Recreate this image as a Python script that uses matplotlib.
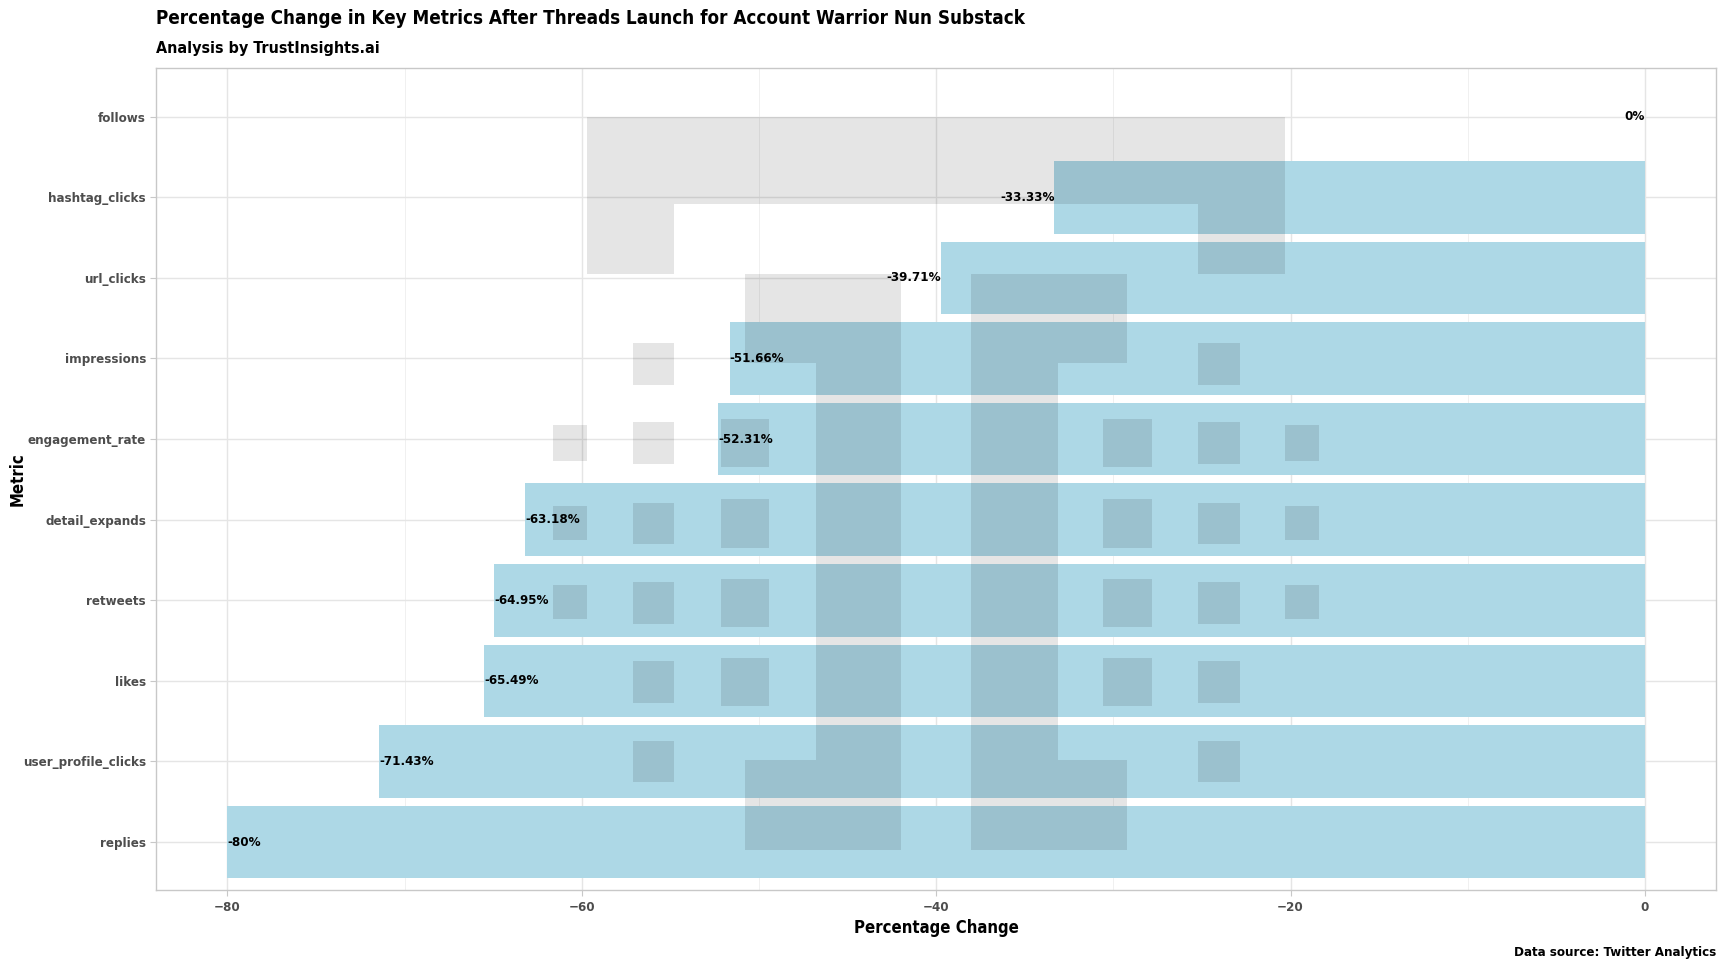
import matplotlib
matplotlib.use("Agg")
import matplotlib.pyplot as plt
import matplotlib.patches as patches
from matplotlib.ticker import MultipleLocator

plt.rcParams['font.family'] = ['DejaVu Sans']
plt.rcParams['font.stretch'] = 'condensed'

# data (bottom to top)
metrics = ["replies", "user_profile_clicks", "likes", "retweets", "detail_expands",
           "engagement_rate", "impressions", "url_clicks", "hashtag_clicks", "follows"]
pct_change = [-80.0, -71.43, -65.49, -64.95, -63.18, -52.31, -51.66, -39.71, -33.33, 0.0]

# watermark logo blocks, in reference pixels (x0, y0, x1, y1) on a 1568x882 canvas
W, H = 1568.0, 882.0
logo_blocks = [
    (533, 106, 1166, 185), (533, 185, 612, 249), (1087, 185, 1166, 249),
    (676, 249, 818, 329), (881, 249, 1023, 329),
    (740, 329, 818, 690), (881, 329, 960, 690),
    (676, 690, 818, 771), (881, 690, 1023, 771),
    (574, 311, 612, 349), (1087, 311, 1125, 349),
    (502, 386, 533, 418), (574, 383, 612, 421), (654, 380, 698, 424),
    (1001, 380, 1045, 424), (1087, 383, 1125, 421), (1166, 386, 1197, 418),
    (502, 459, 533, 490), (574, 456, 612, 494), (654, 453, 698, 497),
    (1001, 453, 1045, 497), (1087, 456, 1125, 494), (1166, 459, 1197, 490),
    (502, 531, 533, 562), (574, 528, 612, 566), (654, 525, 698, 569),
    (1001, 525, 1045, 569), (1087, 528, 1125, 566), (1166, 531, 1197, 562),
    (574, 600, 612, 638), (654, 597, 698, 641), (1001, 597, 1045, 641), (1087, 600, 1125, 638),
    (574, 672, 612, 710), (1087, 672, 1125, 710),
]

fig = plt.figure(figsize=(17.28, 9.72), dpi=100)
ax = fig.add_axes([142 / W, 1 - 808 / H, (1557 - 142) / W, (808 - 62) / H])

ypos = list(range(1, len(metrics) + 1))
ax.barh(ypos, pct_change, height=0.9, color='#ADD8E6', zorder=2)

for y, v in zip(ypos, pct_change):
    lab = f"{v:g}%"
    ha = 'left' if v < -45 else 'right'
    ax.text(v, y, lab, ha=ha, va='center',
            fontsize=9.5, fontweight='bold', color='black', zorder=4)

ax.set_xlim(-84, 4)
ax.set_ylim(0.4, len(metrics) + 0.6)
ax.set_yticks(ypos)
ax.set_yticklabels(metrics)
ax.xaxis.set_major_locator(MultipleLocator(20))
ax.xaxis.set_minor_locator(MultipleLocator(10))
ax.grid(which='major', color='#e5e5e5', linewidth=1.0, zorder=0)
ax.grid(which='minor', axis='x', color='#eeeeee', linewidth=0.6, zorder=0)
ax.set_axisbelow(True)
for s in ax.spines.values():
    s.set_color('#c8c8c8')
    s.set_linewidth(1.0)
ax.tick_params(which='major', length=4, color='#c8c8c8', labelsize=9.5, labelcolor='#4d4d4d')
ax.tick_params(which='minor', length=0)
for t in ax.get_xticklabels() + ax.get_yticklabels():
    t.set_fontweight('bold')

ax.set_xlabel("Percentage Change", fontsize=12, fontweight='bold', labelpad=4)
ax.set_ylabel("Metric", fontsize=12, fontweight='bold')
ax.yaxis.set_label_coords((24 - 142) / (1557 - 142), 0.5)

# watermark overlay
for x0, y0, x1, y1 in logo_blocks:
    fig.patches.append(patches.Rectangle((x0 / W, 1 - y1 / H), (x1 - x0) / W, (y1 - y0) / H,
                                         transform=fig.transFigure, facecolor='black',
                                         alpha=0.1, edgecolor='none', zorder=3))

fig.text(142 / W, 1 - 17 / H, "Percentage Change in Key Metrics After Threads Launch for Account Warrior Nun Substack",
         fontsize=13.5, fontweight='bold', ha='left', va='center')
fig.text(142 / W, 1 - 44 / H, "Analysis by TrustInsights.ai",
         fontsize=11.5, fontweight='bold', ha='left', va='center')
fig.text(1557 / W, 1 - 864 / H, "Data source: Twitter Analytics",
         fontsize=9.5, fontweight='bold', ha='right', va='center')

fig.savefig("out.png", dpi=100)
